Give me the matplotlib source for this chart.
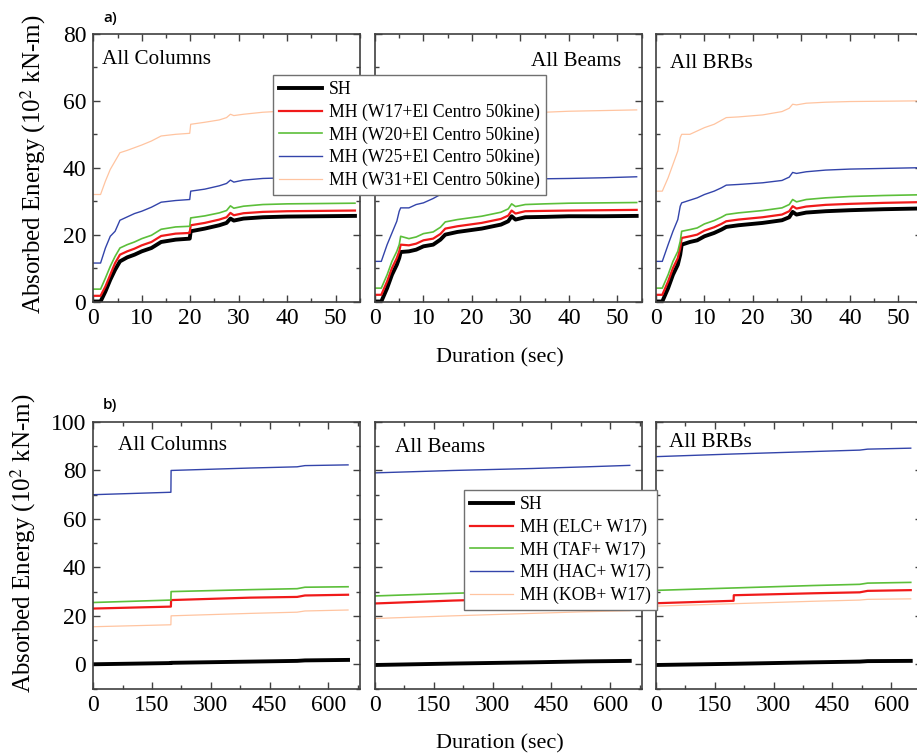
import numpy as np
import matplotlib
matplotlib.use("Agg")
import matplotlib.pyplot as plt
from matplotlib.ticker import MultipleLocator

plt.rcParams['font.family'] = ['Liberation Serif', 'DejaVu Serif']
plt.rcParams['mathtext.fontset'] = 'stix'

# ---------------- data: a) El Centro 50kine with different winds ----------------
labels_a = ["SH", "MH (W17+El Centro 50kine)", "MH (W20+El Centro 50kine)",
            "MH (W25+El Centro 50kine)", "MH (W31+El Centro 50kine)"]

# All Columns
t_col = [0, 1.5, 2.5, 3.5, 4.5, 5.5, 7, 8.5, 10, 12, 14, 17, 19.9, 20.1,
         23, 26, 27.5, 28.3, 29, 31, 35, 40, 47, 54]
col_sh = [0, 0, 3, 6.5, 9.5, 12, 13.2, 14, 15, 16, 17.8, 18.5, 18.8, 21,
          21.8, 22.8, 23.5, 24.8, 24.2, 24.8, 25.2, 25.4, 25.5, 25.6]
col_w17 = [1.7, 1.7, 4.5, 8, 11.5, 14, 15, 15.8, 16.8, 17.8, 19.6, 20.3, 20.5, 22.8,
           23.5, 24.5, 25.2, 26.5, 25.8, 26.4, 26.8, 27, 27.1, 27.2]
col_w20 = [3.7, 3.7, 7, 10.5, 13.5, 16, 17, 17.8, 18.8, 19.8, 21.6, 22.3, 22.5, 25,
           25.6, 26.5, 27.2, 28.6, 27.9, 28.5, 29, 29.2, 29.3, 29.4]
col_w25 = [11.5, 11.5, 16, 19.5, 21, 24.3, 25.3, 26.3, 27, 28.2, 29.7, 30.2, 30.5, 33,
           33.6, 34.6, 35.3, 36.3, 35.7, 36.3, 36.8, 37, 37.3, 37.5]
col_w31 = [32, 32, 36, 39.5, 42, 44.5, 45.2, 46, 46.8, 48, 49.5, 50, 50.3, 53,
           53.6, 54.3, 55, 56, 55.6, 56, 56.6, 57, 57.2, 57.3]

# All Beams
t_bm = [0, 1.3, 2.5, 3.5, 4.5, 5, 5.3, 7, 8.5, 10, 12, 13.5, 14.5, 17,
        22, 26, 27.5, 28.2, 29, 31, 35, 40, 47, 54]
bm_sh = [0, 0, 4, 8, 11, 13, 14.8, 15, 15.5, 16.5, 17, 18.5, 20, 20.8,
         21.8, 23, 24, 25.5, 24.5, 25.2, 25.3, 25.5, 25.5, 25.6]
bm_w17 = [2, 2, 6, 10, 13, 15, 17, 16.8, 17.3, 18.3, 18.8, 20.2, 21.8, 22.5,
          23.5, 24.7, 25.7, 27.2, 26.3, 27, 27.1, 27.2, 27.3, 27.4]
bm_w20 = [4, 4, 8, 12, 15, 17, 19.5, 18.8, 19.3, 20.3, 20.8, 22.2, 23.8, 24.5,
          25.5, 26.7, 27.7, 29.2, 28.4, 29, 29.2, 29.4, 29.5, 29.6]
bm_w25 = [12, 12, 17, 20.5, 24, 27, 28, 28, 29, 29.5, 30.8, 32, 33, 33.5,
          34.5, 35, 35.5, 36.5, 36, 36.5, 36.7, 36.8, 37, 37.3]
bm_w31 = [33, 33, 37, 40.5, 43, 45, 45.5, 46, 47, 47.8, 48.5, 49.5, 50.5, 51,
          52.5, 54, 55, 56, 55.7, 56.2, 56.6, 56.9, 57.1, 57.3]

# All BRBs
t_brb = t_bm
brb_sh = [0, 0, 4, 8, 11, 14, 17, 17.8, 18.3, 19.5, 20.5, 21.5, 22.3, 22.8,
          23.5, 24.3, 25.2, 26.8, 26, 26.6, 27, 27.3, 27.6, 27.8]
brb_w17 = [2, 2, 6, 10, 13, 16, 19, 19.5, 20, 21.2, 22.2, 23.2, 24, 24.5,
           25.2, 26, 27, 28.5, 27.8, 28.4, 28.9, 29.2, 29.5, 29.7]
brb_w20 = [4, 4, 8, 12, 15, 18, 21, 21.5, 22, 23.2, 24.2, 25.2, 26, 26.5,
           27.2, 28, 29, 30.5, 29.8, 30.5, 31, 31.4, 31.7, 31.9]
brb_w25 = [12, 12, 17, 21, 24.5, 28.5, 29.5, 30.3, 31, 32, 33, 34, 34.8, 35,
           35.5, 36.2, 37.2, 38.6, 38.3, 38.8, 39.3, 39.6, 39.8, 40]
brb_w31 = [33, 33, 37, 41, 45, 49, 50, 50, 51, 52, 53, 54.2, 55, 55.2,
           55.8, 56.8, 57.8, 59, 58.8, 59.3, 59.6, 59.8, 59.9, 60]

# ---------------- data: b) W17 with different earthquakes ----------------
labels_b = ["SH", "MH (ELC+ W17)", "MH (TAF+ W17)", "MH (HAC+ W17)", "MH (KOB+ W17)"]

t_col_b = [0, 198, 198.5, 400, 520, 540, 650]
colb_sh = [0, 0.5, 0.6, 1.1, 1.4, 1.6, 1.8]
colb_elc = [23, 23.8, 26.5, 27.5, 27.8, 28.4, 28.7]
colb_taf = [25.5, 26.5, 30, 30.8, 31.2, 31.8, 32]
colb_hac = [70, 71, 80, 81, 81.5, 82, 82.3]
colb_kob = [15.5, 16.3, 20, 21, 21.5, 22, 22.4]

t_bm_b = [0, 200, 400, 540, 650]
bmb_sh = [-0.3, 0.3, 0.8, 1.2, 1.4]
bmb_elc = [25.1, 26.3, 27.2, 27.7, 28]
bmb_taf = [28.2, 29.3, 30.2, 30.8, 31]
bmb_hac = [79, 80, 80.8, 81.5, 82.1]
bmb_kob = [18.9, 20, 21, 21.7, 22.1]

t_brb_b = [0, 198, 198.5, 400, 520, 540, 650]
brbb_sh = [-0.3, 0.2, 0.2, 0.8, 1.1, 1.3, 1.4]
brbb_elc = [25.2, 26.2, 28.5, 29.3, 29.7, 30.3, 30.6]
brbb_taf = [30.5, 31.5, 31.5, 32.5, 33, 33.5, 33.8]
brbb_hac = [85.7, 86.8, 86.8, 87.8, 88.4, 88.8, 89.2]
brbb_kob = [24, 25, 25, 26, 26.5, 26.8, 27]

colors = ['black', '#f01a1a', '#5cbf3a', '#3344aa', '#ffc4a0']
widths = [2.8, 1.6, 1.2, 1.0, 0.9]

panels_a = [(t_col, [col_sh, col_w17, col_w20, col_w25, col_w31], "All Columns"),
            (t_bm, [bm_sh, bm_w17, bm_w20, bm_w25, bm_w31], "All Beams"),
            (t_brb, [brb_sh, brb_w17, brb_w20, brb_w25, brb_w31], "All BRBs")]
panels_b = [(t_col_b, [colb_sh, colb_elc, colb_taf, colb_hac, colb_kob], "All Columns"),
            (t_bm_b, [bmb_sh, bmb_elc, bmb_taf, bmb_hac, bmb_kob], "All Beams"),
            (t_brb_b, [brbb_sh, brbb_elc, brbb_taf, brbb_hac, brbb_kob], "All BRBs")]

W, H = 917, 756
fig = plt.figure(figsize=(W / 100, H / 100), dpi=100)

lefts = [93.3, 375, 656]
pw = 266.5
rows = [(34, 301.5), (422, 688.5)]


def add_ax(px_left, row):
    top, bot = row
    return fig.add_axes([px_left / W, 1 - bot / H, pw / W, (bot - top) / H])


def style(ax, show_y):
    for s in ax.spines.values():
        s.set_color('#404040')
        s.set_linewidth(1.2)
    ax.tick_params(which='both', direction='in', top=True, right=True,
                   color='#404040', labelsize=17, pad=5)
    ax.tick_params(which='major', length=5, width=1)
    ax.tick_params(which='minor', length=3, width=1)
    if not show_y:
        ax.tick_params(labelleft=False)


# text positions (pixel centre) for panel names
name_pos_a = [(102, 59, 'left'), (621, 61, 'right'), (670, 63, 'left')]
name_pos_b = [(118, 445, 'left'), (395, 447, 'left'), (669, 443, 'left')]

axes_a = []
for i, (t, series, name) in enumerate(panels_a):
    ax = add_ax(lefts[i], rows[0])
    for vals, c, lw in zip(series, colors, widths):
        ax.plot(t, vals, color=c, lw=lw)
    ax.set_xlim(0, 55)
    ax.set_ylim(0, 80)
    ax.xaxis.set_major_locator(MultipleLocator(10))
    ax.xaxis.set_minor_locator(MultipleLocator(5))
    ax.yaxis.set_major_locator(MultipleLocator(20))
    ax.yaxis.set_minor_locator(MultipleLocator(10))
    style(ax, i == 0)
    x, y, ha = name_pos_a[i]
    fig.text(x / W, 1 - y / H, name, ha=ha, va='center', fontsize=15.2)
    axes_a.append(ax)

axes_b = []
for i, (t, series, name) in enumerate(panels_b):
    ax = add_ax(lefts[i], rows[1])
    for vals, c, lw in zip(series, colors, widths):
        ax.plot(t, vals, color=c, lw=lw)
    ax.set_xlim(0, 680)
    ax.set_ylim(-10, 100)
    ax.xaxis.set_major_locator(MultipleLocator(150))
    ax.xaxis.set_minor_locator(MultipleLocator(75))
    ax.yaxis.set_major_locator(MultipleLocator(20))
    ax.yaxis.set_minor_locator(MultipleLocator(10))
    style(ax, i == 0)
    x, y, ha = name_pos_b[i]
    fig.text(x / W, 1 - y / H, name, ha=ha, va='center', fontsize=15.2)
    axes_b.append(ax)

leg_kw = dict(loc='upper left', bbox_transform=fig.transFigure, fontsize=12.8,
              fancybox=False, edgecolor='#707070', framealpha=1,
              handlelength=2.4, handletextpad=0.4, labelspacing=0.3,
              borderpad=0.35, borderaxespad=0)
leg_a = fig.legend(axes_a[0].lines, labels_a, bbox_to_anchor=(273 / W, 1 - 75 / H), **leg_kw)
leg_b = fig.legend(axes_b[0].lines, labels_b, bbox_to_anchor=(464 / W, 1 - 490 / H), **leg_kw)
leg_a.get_frame().set_linewidth(1.0)
leg_b.get_frame().set_linewidth(1.0)

ylab = "Absorbed Energy (10$^{2}$ kN-m)"
fig.text(33 / W, 1 - 164 / H, ylab, rotation=90, ha='center', va='center', fontsize=18)
fig.text(23 / W, 1 - 543 / H, ylab, rotation=90, ha='center', va='center', fontsize=18)
fig.text(500 / W, 1 - 358 / H, "Duration (sec)", ha='center', va='center', fontsize=16)
fig.text(500 / W, 1 - 744 / H, "Duration (sec)", ha='center', va='center', fontsize=16)

fig.text(103 / W, 1 - 18 / H, "a)", ha='left', va='center', fontsize=11,
         family='Open Sans', fontweight='semibold')
fig.text(103 / W, 1 - 405 / H, "b)", ha='left', va='center', fontsize=11,
         family='Open Sans', fontweight='semibold')

fig.savefig("out.png", dpi=100)
